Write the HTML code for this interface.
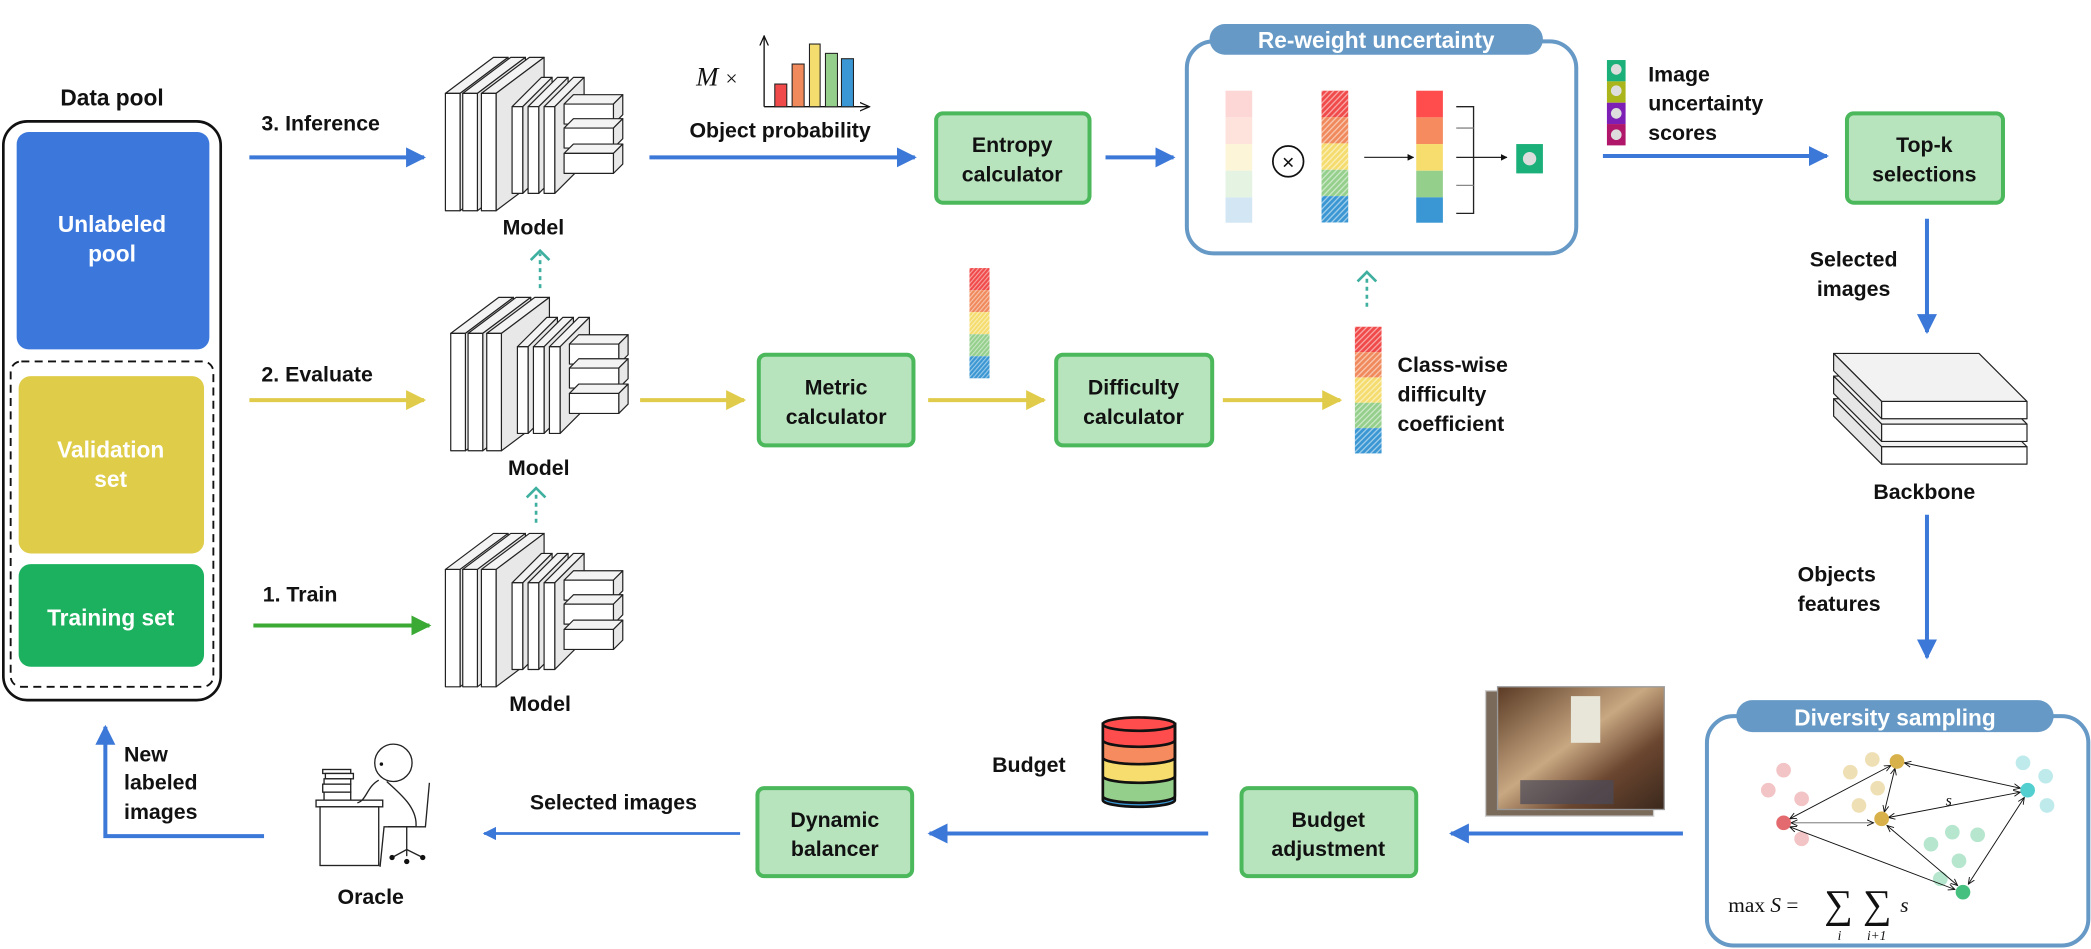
<!DOCTYPE html>
<html><head><meta charset="utf-8"><style>
html,body{margin:0;padding:0;background:#fff}
svg{display:block}
text{font-family:"Liberation Sans",sans-serif;font-weight:700;fill:#111}
</style></head><body>
<svg width="2091" height="949" viewBox="0 0 1568 711.6" xmlns="http://www.w3.org/2000/svg">
<defs>
<marker id="ab" viewBox="0 0 10 10" refX="9" refY="5" markerWidth="5" markerHeight="5" orient="auto-start-reverse"><path d="M0,0L10,5L0,10z" fill="#3c78d8"/></marker>
<marker id="ay" viewBox="0 0 10 10" refX="9" refY="5" markerWidth="5" markerHeight="5" orient="auto-start-reverse"><path d="M0,0L10,5L0,10z" fill="#e0cc4a"/></marker>
<marker id="ag" viewBox="0 0 10 10" refX="9" refY="5" markerWidth="5" markerHeight="5" orient="auto-start-reverse"><path d="M0,0L10,5L0,10z" fill="#3aaa35"/></marker>
<marker id="ak" viewBox="0 0 10 10" refX="9" refY="5" markerWidth="8" markerHeight="8" orient="auto-start-reverse"><path d="M0,1L9,5L0,9" fill="none" stroke="#111" stroke-width="1.2"/></marker>
<marker id="ak2" viewBox="0 0 10 10" refX="9" refY="5" markerWidth="5" markerHeight="5" orient="auto"><path d="M0,0L10,5L0,10z" fill="#111"/></marker>
<pattern id="hatch" width="3" height="3" patternUnits="userSpaceOnUse" patternTransform="rotate(45)"><rect width="1" height="3" fill="#fff" opacity="0.5"/></pattern>
<g id="hcol">
<rect x="0" y="0" width="20" height="19" fill="#f04a4a"/><rect x="0" y="19" width="20" height="19" fill="#f08a5d"/><rect x="0" y="38" width="20" height="19" fill="#f5dc6e"/><rect x="0" y="57" width="20" height="19" fill="#95cf8c"/><rect x="0" y="76" width="20" height="19" fill="#3b97d3"/><rect x="0" y="0" width="20" height="95" fill="url(#hatch)"/>
</g>
<g id="model" stroke="#222" stroke-width="0.9" fill="#fff" stroke-linejoin="round">
<g id="bs"><polygon points="0,27 36,0 47,0 11,27" fill="#f3f3f3"/><polygon points="11,27 47,0 47,88 11,115" fill="#e8e8e8"/><rect x="0" y="27" width="11" height="88"/></g>
<use href="#bs" x="13"/><use href="#bs" x="27"/>
<g id="ms"><polygon points="50,37 72,15 80,15 58,37" fill="#f3f3f3"/><polygon points="58,37 80,15 80,80 58,102" fill="#e8e8e8"/><rect x="50" y="37" width="8" height="65"/></g>
<use href="#ms" x="12"/><use href="#ms" x="24"/>
<g id="sb"><polygon points="89,35 96,28 133,28 126,35" fill="#f3f3f3"/><polygon points="126,35 133,28 133,43 126,50" fill="#e8e8e8"/><rect x="89" y="35" width="37" height="15"/></g>
<use href="#sb" y="18"/><use href="#sb" y="37"/>
</g>
<g id="slab" stroke="#222" stroke-width="0.9" stroke-linejoin="round"><polygon points="1375,265 1484,265 1520,301 1411,301" fill="#f2f2f2"/><polygon points="1375,265 1411,301 1411,314 1375,278" fill="#e6e6e6"/><rect x="1411" y="301" width="109" height="13" fill="#fff"/></g>
</defs>

<!-- Data pool -->
<text x="84" y="79" font-size="17" text-anchor="middle">Data pool</text>
<rect x="2.5" y="91" width="163" height="434" rx="18" fill="none" stroke="#111" stroke-width="2"/>
<rect x="12.5" y="99" width="144.5" height="163" rx="9" fill="#3c78dc"/>
<text x="84" y="174" font-size="17" text-anchor="middle" style="fill:#fff">Unlabeled</text>
<text x="84" y="196" font-size="17" text-anchor="middle" style="fill:#fff">pool</text>
<rect x="8" y="271" width="152" height="244" rx="8" fill="none" stroke="#111" stroke-width="1.4" stroke-dasharray="6,4"/>
<rect x="14" y="282" width="139" height="133" rx="9" fill="#dfcd4a"/>
<text x="83" y="343" font-size="17" text-anchor="middle" style="fill:#fff">Validation</text>
<text x="83" y="365" font-size="17" text-anchor="middle" style="fill:#fff">set</text>
<rect x="14" y="423" width="139" height="77" rx="9" fill="#1bb15e"/>
<text x="83" y="469" font-size="17" text-anchor="middle" style="fill:#fff">Training set</text>

<!-- left arrows -->
<text x="196" y="98" font-size="16">3. Inference</text>
<line x1="187" y1="118" x2="318" y2="118" stroke="#3c78d8" stroke-width="3" marker-end="url(#ab)"/>
<text x="196" y="286" font-size="16">2. Evaluate</text>
<line x1="187" y1="300" x2="318" y2="300" stroke="#e0cc4a" stroke-width="3" marker-end="url(#ay)"/>
<text x="197" y="451" font-size="16">1. Train</text>
<line x1="190" y1="469" x2="322" y2="469" stroke="#3aaa35" stroke-width="3" marker-end="url(#ag)"/>

<!-- models -->
<use href="#model" x="334" y="43"/>
<use href="#model" x="338" y="223"/>
<use href="#model" x="334" y="400"/>
<text x="400" y="176" font-size="16" text-anchor="middle">Model</text>
<text x="404" y="356" font-size="16" text-anchor="middle">Model</text>
<text x="405" y="533" font-size="16" text-anchor="middle">Model</text>
<g stroke="#3fb0a0" stroke-width="2" fill="none">
<line x1="405" y1="216" x2="405" y2="190" stroke-dasharray="3,3"/><path d="M398,195L405,188L412,195"/>
<line x1="402" y1="392" x2="402" y2="368" stroke-dasharray="3,3"/><path d="M395,373L402,366L409,373"/>
<line x1="1025" y1="230" x2="1025" y2="206" stroke-dasharray="3,3"/><path d="M1018,211L1025,204L1032,211"/>
</g>

<!-- object probability -->
<text x="522" y="64" font-size="20" style="font-family:'Liberation Serif',serif;font-style:italic;font-weight:400">M</text>
<text x="544" y="64" font-size="16" style="font-family:'Liberation Serif',serif;font-weight:400">×</text>
<line x1="573" y1="80" x2="573" y2="27" stroke="#111" stroke-width="1" marker-end="url(#ak)"/>
<line x1="573" y1="80" x2="652" y2="80" stroke="#111" stroke-width="1" marker-end="url(#ak)"/>
<g stroke="#222" stroke-width="0.8">
<rect x="581" y="63" width="9" height="17" fill="#f04a4a"/><rect x="594" y="48" width="9" height="32" fill="#f08a5d"/><rect x="607" y="33" width="8" height="47" fill="#f5dc6e"/><rect x="619" y="40" width="9" height="40" fill="#95cf8c"/><rect x="631" y="44" width="9" height="36" fill="#3b97d3"/>
</g>
<text x="585" y="103" font-size="16" text-anchor="middle">Object probability</text>
<line x1="487" y1="118" x2="686" y2="118" stroke="#3c78d8" stroke-width="3" marker-end="url(#ab)"/>

<!-- green boxes -->
<g fill="#b7e3bd" stroke="#4cb85c" stroke-width="3">
<rect x="702" y="85" width="115" height="67" rx="5"/>
<rect x="1385" y="85" width="117" height="67" rx="5"/>
<rect x="569" y="266" width="116" height="68" rx="5"/>
<rect x="792" y="266" width="117" height="68" rx="5"/>
<rect x="568" y="591" width="116" height="66" rx="5"/>
<rect x="931" y="591" width="131" height="66" rx="5"/>
</g>
<g font-size="16" text-anchor="middle">
<text x="759" y="114">Entropy</text><text x="759" y="136">calculator</text>
<text x="1443" y="114">Top-k</text><text x="1443" y="136">selections</text>
<text x="627" y="296">Metric</text><text x="627" y="318">calculator</text>
<text x="850" y="296">Difficulty</text><text x="850" y="318">calculator</text>
<text x="626" y="620">Dynamic</text><text x="626" y="642">balancer</text>
<text x="996" y="620">Budget</text><text x="996" y="642">adjustment</text>
</g>

<line x1="829" y1="118" x2="880" y2="118" stroke="#3c78d8" stroke-width="3" marker-end="url(#ab)"/>
<line x1="480" y1="300" x2="558" y2="300" stroke="#e0cc4a" stroke-width="3" marker-end="url(#ay)"/>
<line x1="696" y1="300" x2="783" y2="300" stroke="#e0cc4a" stroke-width="3" marker-end="url(#ay)"/>
<line x1="917" y1="300" x2="1005" y2="300" stroke="#e0cc4a" stroke-width="3" marker-end="url(#ay)"/>
<use href="#hcol" transform="translate(727,201) scale(0.75,0.87)"/>
<use href="#hcol" x="1016" y="245"/>
<text x="1048" y="279" font-size="16">Class-wise</text>
<text x="1048" y="301" font-size="16">difficulty</text>
<text x="1048" y="323" font-size="16">coefficient</text>

<!-- Re-weight -->
<rect x="890" y="31" width="292" height="159" rx="20" fill="#fff" stroke="#6699c6" stroke-width="3"/>
<rect x="907" y="18" width="250" height="23" rx="11.5" fill="#6699c6"/>
<text x="1032" y="36" font-size="17" text-anchor="middle" style="fill:#fff">Re-weight uncertainty</text>
<g>
<rect x="919" y="68" width="20" height="20" fill="#fdd6d6"/><rect x="919" y="88" width="20" height="20" fill="#fde3dc"/><rect x="919" y="108" width="20" height="20" fill="#fcf5d8"/><rect x="919" y="128" width="20" height="20" fill="#e5f3e3"/><rect x="919" y="148" width="20" height="19" fill="#d3e6f3"/>
</g>
<circle cx="966" cy="121" r="11.5" fill="#fff" stroke="#111" stroke-width="1.3"/>
<text x="966" y="127" font-size="16" text-anchor="middle" style="font-weight:400">×</text>
<use href="#hcol" transform="translate(991,68) scale(1,1.04)"/>
<line x1="1023" y1="118" x2="1060" y2="118" stroke="#333" stroke-width="1" marker-end="url(#ak2)"/>
<g>
<rect x="1062" y="68" width="20" height="20" fill="#ff4d4d"/><rect x="1062" y="88" width="20" height="20" fill="#f58b5e"/><rect x="1062" y="108" width="20" height="20" fill="#f7dd6e"/><rect x="1062" y="128" width="20" height="20" fill="#95cf8c"/><rect x="1062" y="148" width="20" height="19" fill="#3b97d3"/>
</g>
<g stroke="#222" stroke-width="1" fill="none">
<path d="M1092,80H1105V160H1092"/><line x1="1092" y1="96" x2="1105" y2="96" stroke="#888"/><line x1="1092" y1="139" x2="1105" y2="139" stroke="#888"/>
</g>
<line x1="1092" y1="118" x2="1130" y2="118" stroke="#222" stroke-width="1" marker-end="url(#ak2)"/>
<rect x="1137" y="108" width="20" height="22" fill="#1bb07a"/><circle cx="1147" cy="119" r="5" fill="#ddd"/>

<!-- uncertainty scores -->
<rect x="1205" y="45" width="14" height="16" fill="#1bb07a"/><rect x="1205" y="61" width="14" height="16" fill="#a9b51a"/><rect x="1205" y="77" width="14" height="16" fill="#7d1fb5"/><rect x="1205" y="93" width="14" height="16" fill="#b0176a"/>
<g fill="#ddd"><circle cx="1212" cy="52" r="4"/><circle cx="1212" cy="68" r="4"/><circle cx="1212" cy="85" r="4"/><circle cx="1212" cy="101" r="4"/></g>
<text x="1236" y="61" font-size="16">Image</text>
<text x="1236" y="83" font-size="16">uncertainty</text>
<text x="1236" y="105" font-size="16">scores</text>
<line x1="1202" y1="117" x2="1370" y2="117" stroke="#3c78d8" stroke-width="3" marker-end="url(#ab)"/>

<!-- right column -->
<line x1="1445" y1="164" x2="1445" y2="249" stroke="#3c78d8" stroke-width="3" marker-end="url(#ab)"/>
<text x="1390" y="200" font-size="16" text-anchor="middle">Selected</text>
<text x="1390" y="222" font-size="16" text-anchor="middle">images</text>
<use href="#slab" y="34"/><use href="#slab" y="17"/><use href="#slab"/>
<text x="1443" y="374" font-size="16" text-anchor="middle">Backbone</text>
<line x1="1445" y1="386" x2="1445" y2="493" stroke="#3c78d8" stroke-width="3" marker-end="url(#ab)"/>
<text x="1348" y="436" font-size="16">Objects</text>
<text x="1348" y="458" font-size="16">features</text>

<!-- diversity -->
<rect x="1280" y="537" width="286" height="172" rx="20" fill="#fff" stroke="#6699c6" stroke-width="3"/>
<rect x="1302" y="525" width="238" height="24" rx="12" fill="#6699c6"/>
<text x="1421" y="544" font-size="17" text-anchor="middle" style="fill:#fff">Diversity sampling</text>
<g>
<g fill="#f3c4c6"><circle cx="1337.5" cy="577.5" r="5.5"/><circle cx="1326" cy="592.5" r="5.5"/><circle cx="1351" cy="599" r="5.5"/><circle cx="1351" cy="629" r="5.5"/></g>
<g fill="#efdfb5"><circle cx="1387.5" cy="579" r="5.5"/><circle cx="1404" cy="569.5" r="5.5"/><circle cx="1408" cy="591" r="5.5"/><circle cx="1394" cy="604" r="5.5"/></g>
<g fill="#bfeaec"><circle cx="1517" cy="572" r="5.5"/><circle cx="1534" cy="582" r="5.5"/><circle cx="1535" cy="604" r="5.5"/></g>
<g fill="#b6e6ce"><circle cx="1448" cy="633" r="5.5"/><circle cx="1464" cy="624" r="5.5"/><circle cx="1483" cy="626" r="5.5"/><circle cx="1469" cy="645.5" r="5.5"/><circle cx="1455" cy="659" r="5.5"/></g>
<g stroke="#111" stroke-width="0.7" fill="none" marker-start="url(#ak)" marker-end="url(#ak)">
<line x1="1342" y1="614" x2="1418" y2="574"/>
<line x1="1343" y1="617" x2="1405" y2="617" stroke="#666"/>
<line x1="1342" y1="620" x2="1466" y2="667"/>
<line x1="1421" y1="576" x2="1413" y2="609"/>
<line x1="1428" y1="572" x2="1515" y2="591"/>
<line x1="1416" y1="613" x2="1515" y2="594"/>
<line x1="1415" y1="619" x2="1468" y2="664"/>
<line x1="1518" y1="598" x2="1476" y2="663"/>
</g>
<circle cx="1337.5" cy="617" r="5.5" fill="#e36a6e"/>
<circle cx="1422.5" cy="571" r="5.5" fill="#d8b14a"/>
<circle cx="1411" cy="614" r="5.5" fill="#d8b14a"/>
<circle cx="1520.5" cy="592.5" r="5.5" fill="#54cfcf"/>
<circle cx="1472" cy="669" r="5.5" fill="#45c07e"/>
<text x="1459" y="604" font-size="12" style="font-family:'Liberation Serif',serif;font-style:italic;font-weight:400">s</text>
</g>
<g style="font-family:'Liberation Serif',serif;font-weight:400">
<text x="1296" y="684" font-size="16" style="font-family:'Liberation Serif',serif;font-weight:400">max <tspan font-style="italic">S</tspan> =</text>
<text x="1368" y="688" font-size="30" style="font-family:'Liberation Serif',serif;font-weight:400">∑</text>
<text x="1397" y="688" font-size="30" style="font-family:'Liberation Serif',serif;font-weight:400">∑</text>
<text x="1378" y="705" font-size="10" style="font-family:'Liberation Serif',serif;font-style:italic;font-weight:400">i</text>
<text x="1400" y="705" font-size="10" style="font-family:'Liberation Serif',serif;font-style:italic;font-weight:400">i+1</text>
<text x="1425" y="684" font-size="16" style="font-family:'Liberation Serif',serif;font-style:italic;font-weight:400">s</text>
</g>

<!-- photo -->
<rect x="1114" y="518" width="126" height="94" fill="#7a6a5a" stroke="#ccc" stroke-width="1"/>
<defs><linearGradient id="ph" x1="0" y1="0" x2="1" y2="1"><stop offset="0" stop-color="#5a3a24"/><stop offset="0.45" stop-color="#c8a882"/><stop offset="0.7" stop-color="#6b4630"/><stop offset="1" stop-color="#3a281c"/></linearGradient></defs>
<rect x="1123" y="515" width="125" height="92" fill="url(#ph)" stroke="#999" stroke-width="1"/>
<rect x="1178" y="522" width="22" height="35" fill="#e8e6d8"/>
<rect x="1140" y="585" width="70" height="18" fill="#4a4a5a" opacity="0.7"/>

<line x1="1262" y1="625" x2="1088" y2="625" stroke="#3c78d8" stroke-width="3" marker-end="url(#ab)"/>
<line x1="906" y1="625" x2="697" y2="625" stroke="#3c78d8" stroke-width="3" marker-end="url(#ab)"/>
<text x="744" y="579" font-size="16">Budget</text>
<!-- cylinder -->
<g stroke="#111" stroke-width="2">
<path d="M827,543V600A27,5 0 0 0 881,600V543Z" fill="#3b97d3"/>
<path d="M827,543V597A27,5 0 0 0 881,597V543Z" fill="#95cf8c"/>
<path d="M827,543V582A27,5 0 0 0 881,582V543Z" fill="#f7dd6e"/>
<path d="M827,543V568A27,5 0 0 0 881,568V543Z" fill="#f58b5e"/>
<path d="M827,543V555A27,5 0 0 0 881,555V543Z" fill="#ff4d4d"/>
<ellipse cx="854" cy="543" rx="27" ry="5" fill="#ff4d4d"/>
</g>

<text x="460" y="607" font-size="16" text-anchor="middle">Selected images</text>
<line x1="555" y1="625" x2="363" y2="625" stroke="#3c78d8" stroke-width="2" marker-end="url(#ab)"/>

<!-- oracle -->
<g stroke="#222" stroke-width="1" fill="#fff">
<rect x="242" y="577" width="21" height="3"/><rect x="244" y="580" width="21" height="4"/><rect x="243" y="584" width="20" height="4"/><rect x="242" y="588" width="21" height="6"/><rect x="243" y="594" width="20" height="6"/>
<rect x="237" y="600" width="50" height="5"/><rect x="240" y="605" width="44" height="44"/>
<circle cx="295" cy="572" r="14"/>
<path d="M284,585C275,590 275,600 268,602M290,586C300,595 312,605 312,618L312,620L288,620L285,650" fill="none"/>
<path d="M322,587L319,620L291,620" fill="none"/>
<line x1="305" y1="620" x2="305" y2="642"/>
<path d="M294,643L305,637L317,643" fill="none"/>
</g>
<g fill="#111"><circle cx="294" cy="643" r="2"/><circle cx="305" cy="646" r="2"/><circle cx="317" cy="643" r="2"/><circle cx="286" cy="573" r="1.3"/></g>
<text x="278" y="678" font-size="16" text-anchor="middle">Oracle</text>

<polyline points="198,627 79,627 79,545" fill="none" stroke="#3c78d8" stroke-width="3" marker-end="url(#ab)"/>
<text x="93" y="571" font-size="16">New</text>
<text x="93" y="592" font-size="16">labeled</text>
<text x="93" y="614" font-size="16">images</text>
</svg>
</body></html>
